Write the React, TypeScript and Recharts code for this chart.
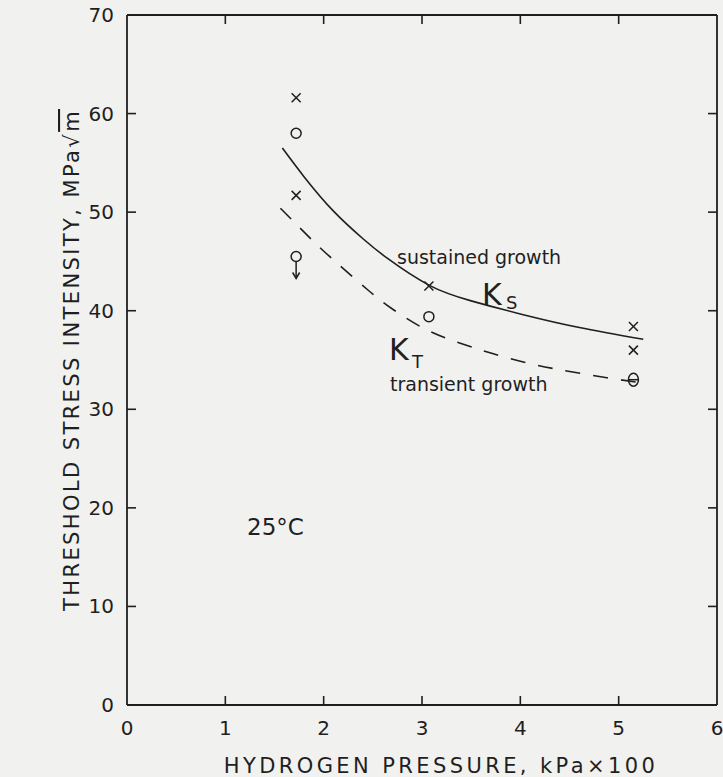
import React from "react";
import { ComposedChart, XAxis, YAxis, Line, Scatter } from "recharts";

// axis ticks
const xTicks = [0, 1, 2, 3, 4, 5, 6];
const yTicks = [0, 10, 20, 30, 40, 50, 60, 70];

// K_S curve (sustained growth)
const sustainedX = [1.58, 1.8, 2.1, 2.4, 2.65, 3.07, 3.5, 4.03, 4.6, 5.25];
const sustainedY = [56.5, 53.6, 50.1, 47.3, 45.3, 42.6, 41.0, 39.6, 38.3, 37.1];

// K_T curve (transient growth), dashed
const transientX = [1.56, 1.9, 2.14, 2.45, 2.71, 3.06, 3.42, 3.7, 4.07, 4.41, 4.88, 5.3];
const transientY = [50.4, 47.0, 44.8, 42.1, 40.1, 38.0, 36.6, 35.7, 34.7, 34.0, 33.2, 32.6];

// measured points
const crossX = [1.72, 1.72, 3.07, 5.15, 5.15];
const crossY = [61.6, 51.7, 42.5, 38.4, 36.0];
const circleX = [1.72, 3.07];
const circleY = [58.0, 39.4];
const arrowX = [1.72];
const arrowY = [45.5];
const thetaX = [5.15];
const thetaY = [33.0];

const INK = "#1f1f1f";
const PAPER = "#f1f1ef";
const FONT = "'DejaVu Sans', sans-serif";
const W = 723;
const H = 777;

const zip = (xs: number[], ys: number[]) => xs.map((x, i) => ({ x, y: ys[i] }));

const sustained = zip(sustainedX, sustainedY);
const transient = zip(transientX, transientY);
const crosses = zip(crossX, crossY);
const circles = zip(circleX, circleY);
const arrows = zip(arrowX, arrowY);
const thetas = zip(thetaX, thetaY);

const TICK = 9;

function BottomTick({ x, y, payload }: any) {
  const v = payload.value;
  return (
    <g>
      {v > 0 && v < 6 && <line x1={x} x2={x} y1={y} y2={y - TICK} stroke={INK} strokeWidth={1.6} />}
      <text x={x} y={y + 30} textAnchor="middle" fontSize={20} fontFamily={FONT} fill={INK}>
        {v}
      </text>
    </g>
  );
}

function TopTick({ x, y, payload }: any) {
  const v = payload.value;
  if (v <= 0 || v >= 6) return <g />;
  return <line x1={x} x2={x} y1={y} y2={y + TICK} stroke={INK} strokeWidth={1.6} />;
}

function LeftTick({ x, y, payload }: any) {
  const v = payload.value;
  return (
    <g>
      {v > 0 && v < 70 && <line x1={x} x2={x + TICK} y1={y} y2={y} stroke={INK} strokeWidth={1.6} />}
      <text x={x - 13} y={y + 7} textAnchor="end" fontSize={20} fontFamily={FONT} fill={INK}>
        {v}
      </text>
    </g>
  );
}

function RightTick({ x, y, payload }: any) {
  const v = payload.value;
  if (v <= 0 || v >= 70) return <g />;
  return <line x1={x} x2={x - TICK} y1={y} y2={y} stroke={INK} strokeWidth={1.6} />;
}

const Cross = ({ cx, cy }: any) => (
  <g stroke={INK} strokeWidth={1.5}>
    <line x1={cx - 4.5} y1={cy - 4.5} x2={cx + 4.5} y2={cy + 4.5} />
    <line x1={cx - 4.5} y1={cy + 4.5} x2={cx + 4.5} y2={cy - 4.5} />
  </g>
);

const Ring = ({ cx, cy }: any) => (
  <circle cx={cx} cy={cy} r={5} fill="none" stroke={INK} strokeWidth={1.5} />
);

const RingArrow = ({ cx, cy }: any) => (
  <g stroke={INK} strokeWidth={1.5} fill="none">
    <circle cx={cx} cy={cy} r={5} />
    <line x1={cx} y1={cy + 5} x2={cx} y2={cy + 21} />
    <polyline points={`${cx - 3.5},${cy + 16} ${cx},${cy + 22} ${cx + 3.5},${cy + 16}`} />
  </g>
);

const Theta = ({ cx, cy }: any) => (
  <g stroke={INK} strokeWidth={1.5} fill="none">
    <ellipse cx={cx} cy={cy} rx={5} ry={6.5} />
    <line x1={cx - 5} y1={cy} x2={cx + 5} y2={cy} />
  </g>
);

const axisLine = { stroke: INK, strokeWidth: 1.8 };

export default function App() {
  return (
    <div style={{ position: "absolute", left: 0, top: 0, width: W, height: H, background: PAPER }}>
      <ComposedChart width={W} height={H} margin={{ top: 14, right: 5, bottom: 32, left: 87 }}>
        <XAxis
          xAxisId="bottom"
          orientation="bottom"
          type="number"
          dataKey="x"
          domain={[0, 6]}
          ticks={xTicks}
          interval={0}
          height={40}
          tickSize={0}
          tickMargin={0}
          tickLine={false}
          axisLine={axisLine}
          tick={<BottomTick />}
          allowDataOverflow
        />
        <XAxis
          xAxisId="top"
          orientation="top"
          type="number"
          dataKey="x"
          domain={[0, 6]}
          ticks={xTicks}
          interval={0}
          height={1}
          tickSize={0}
          tickMargin={0}
          tickLine={false}
          axisLine={axisLine}
          tick={<TopTick />}
          allowDataOverflow
        />
        <YAxis
          yAxisId="left"
          orientation="left"
          type="number"
          domain={[0, 70]}
          ticks={yTicks}
          interval={0}
          width={40}
          tickSize={0}
          tickMargin={0}
          tickLine={false}
          axisLine={axisLine}
          tick={<LeftTick />}
          allowDataOverflow
        />
        <YAxis
          yAxisId="right"
          orientation="right"
          type="number"
          domain={[0, 70]}
          ticks={yTicks}
          interval={0}
          width={1}
          tickSize={0}
          tickMargin={0}
          tickLine={false}
          axisLine={axisLine}
          tick={<RightTick />}
          allowDataOverflow
        />
        <Line
          xAxisId="bottom"
          yAxisId="left"
          data={sustained}
          dataKey="y"
          type="natural"
          stroke={INK}
          strokeWidth={1.6}
          dot={false}
          isAnimationActive={false}
        />
        <Line
          xAxisId="top"
          yAxisId="right"
          data={transient}
          dataKey="y"
          type="natural"
          stroke={INK}
          strokeWidth={1.6}
          strokeDasharray="15 13"
          dot={false}
          isAnimationActive={false}
        />
        <Scatter xAxisId="bottom" yAxisId="left" data={crosses} dataKey="y" shape={<Cross />} isAnimationActive={false} />
        <Scatter xAxisId="bottom" yAxisId="left" data={circles} dataKey="y" shape={<Ring />} isAnimationActive={false} />
        <Scatter xAxisId="bottom" yAxisId="left" data={arrows} dataKey="y" shape={<RingArrow />} isAnimationActive={false} />
        <Scatter xAxisId="bottom" yAxisId="left" data={thetas} dataKey="y" shape={<Theta />} isAnimationActive={false} />
      </ComposedChart>
      <svg
        width={W}
        height={H}
        style={{ position: "absolute", left: 0, top: 0, pointerEvents: "none" }}
        fontFamily={FONT}
        fill={INK}
      >
        <text x={397} y={264} fontSize={19}>sustained growth</text>
        <text x={482} y={305} fontSize={30}>K</text>
        <text x={506} y={309} fontSize={18}>S</text>
        <text x={389} y={360} fontSize={30}>K</text>
        <text x={412} y={368} fontSize={18}>T</text>
        <text x={390} y={391} fontSize={19}>transient growth</text>
        <text x={247} y={535} fontSize={23}>25°C</text>
        <text x={441} y={773} fontSize={21} textAnchor="middle" letterSpacing={3.4}>
          HYDROGEN PRESSURE,  kPa×100
        </text>
        <text
          x={0}
          y={0}
          fontSize={21}
          textAnchor="middle"
          letterSpacing={2.4}
          transform="translate(79 360) rotate(-90)"
        >
          THRESHOLD STRESS INTENSITY, MPa√<tspan style={{ textDecoration: "overline" }}>m</tspan>
        </text>
      </svg>
    </div>
  );
}
